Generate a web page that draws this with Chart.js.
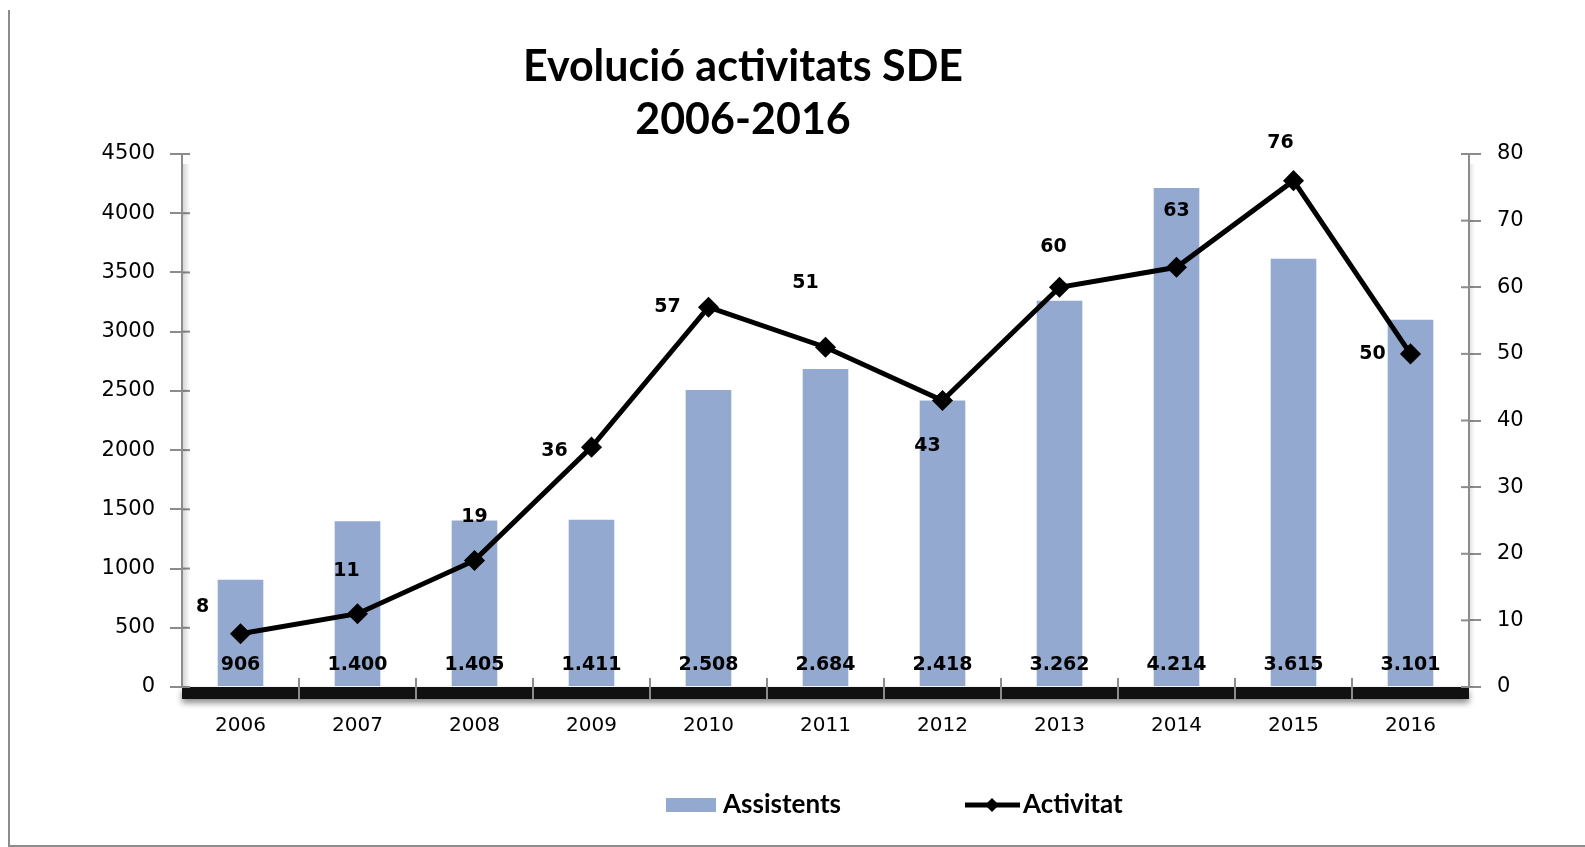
<!DOCTYPE html>
<html>
<head>
<meta charset="utf-8">
<script src="https://cdn.jsdelivr.net/npm/chart.js@4.4.0/dist/chart.umd.min.js"></script>
<style>
    body { margin: 0; background: #fff; }
    #wrap { position: relative; width: 1585px; height: 847px; }
    #frame { position: absolute; left: 8px; top: 10px; right: -4px; bottom: 0; border-left: 2px solid #8c8c8c; border-bottom: 2px solid #8c8c8c; }
    canvas { position: absolute; left: 0; top: 0; }
</style>
</head>
<body>
<div id="wrap">
    <div id="frame"></div>
    <canvas id="chartSDE" width="1585" height="847"></canvas>
</div>
<script>
// dades
const years = ["2006", "2007", "2008", "2009", "2010", "2011", "2012", "2013", "2014", "2015", "2016"];
const assistents = [906, 1400, 1405, 1411, 2508, 2684, 2418, 3262, 4214, 3615, 3101];
const activitat = [8, 11, 19, 36, 57, 51, 43, 60, 63, 76, 50];
const assistentsTicks = { max: 4500, step: 500 };
const activitatTicks = { max: 80, step: 10 };

// posicio de les etiquetes de la linia (com a l'Excel original)
const lineLabelOffsets = [
    [-38, -27], [-11, -43], [0, -43], [-37, 4], [-41, 0], [-20, -64],
    [-15, 46], [-6, -40], [0, -56], [-13, -38], [-38, 0],
];

const barColor = "#94a9d0";
const axisGrey = "#8c8c8c";

const sdePlugin = {
    id: "sdeDecor",
    afterDatasetsDraw(chart) {
        const ctx = chart.ctx;
        const area = chart.chartArea;

        // terra negre sota l'eix X
        ctx.save();
        ctx.shadowColor = "rgba(0,0,0,0.45)";
        ctx.shadowBlur = 6;
        ctx.shadowOffsetY = 4;
        ctx.fillStyle = "#111";
        ctx.fillRect(area.left, area.bottom, area.right - area.left, 12);
        ctx.restore();

        // separadors de categoria i marques interiors dels eixos
        ctx.save();
        ctx.strokeStyle = axisGrey;
        ctx.lineWidth = 2;
        const w = (area.right - area.left) / years.length;
        for (let i = 1; i < years.length; i++) {
            const px = Math.round(area.left + i * w);
            ctx.beginPath();
            ctx.moveTo(px, area.bottom - 9);
            ctx.lineTo(px, area.bottom + 12);
            ctx.stroke();
        }
        chart.scales.y.ticks.forEach((t) => {
            const py = chart.scales.y.getPixelForValue(t.value);
            ctx.beginPath();
            ctx.moveTo(area.left, py);
            ctx.lineTo(area.left + 8, py);
            ctx.stroke();
        });
        chart.scales.y1.ticks.forEach((t) => {
            const py = chart.scales.y1.getPixelForValue(t.value);
            ctx.beginPath();
            ctx.moveTo(area.right - 8, py);
            ctx.lineTo(area.right, py);
            ctx.stroke();
        });
        ctx.restore();

        // ombra de la paret esquerra i dreta
        ctx.save();
        let g = ctx.createLinearGradient(area.left, 0, area.left + 8, 0);
        g.addColorStop(0, "rgba(0,0,0,0.18)");
        g.addColorStop(1, "rgba(0,0,0,0)");
        ctx.fillStyle = g;
        ctx.fillRect(area.left + 1, area.top + 10, 8, area.bottom - area.top - 10);
        g = ctx.createLinearGradient(area.right, 0, area.right + 6, 0);
        g.addColorStop(0, "rgba(0,0,0,0.12)");
        g.addColorStop(1, "rgba(0,0,0,0)");
        ctx.fillStyle = g;
        ctx.fillRect(area.right + 1, area.top + 10, 6, area.bottom - area.top - 10);
        ctx.restore();

        // etiquetes de les barres
        ctx.save();
        ctx.fillStyle = "#000";
        ctx.font = "bold 19px 'DejaVu Sans'";
        ctx.textAlign = "center";
        ctx.textBaseline = "middle";
        chart.getDatasetMeta(0).data.forEach((bar, i) => {
            ctx.fillText(assistents[i].toLocaleString("de-DE"), bar.x, area.bottom - 22);
        });

        // etiquetes de la linia
        chart.getDatasetMeta(1).data.forEach((pt, i) => {
            const off = lineLabelOffsets[i];
            ctx.fillText(String(activitat[i]), pt.x + off[0], pt.y + off[1]);
        });
        ctx.restore();

        // titol
        ctx.save();
        ctx.fillStyle = "#000";
        ctx.font = "bold 43px Lato";
        ctx.textAlign = "center";
        ctx.textBaseline = "middle";
        ctx.fillText("Evolució activitats SDE", 743, 67);
        ctx.fillText("2006-2016", 743, 120);
        ctx.restore();

        // llegenda
        ctx.save();
        ctx.fillStyle = barColor;
        ctx.fillRect(666, 798, 50, 14);
        ctx.fillStyle = "#000";
        ctx.font = "bold 26px Lato";
        ctx.textBaseline = "middle";
        ctx.fillText("Assistents", 723, 805);
        ctx.strokeStyle = "#000";
        ctx.lineWidth = 5;
        ctx.beginPath();
        ctx.moveTo(965, 805);
        ctx.lineTo(1020, 805);
        ctx.stroke();
        ctx.beginPath();
        ctx.moveTo(992, 798);
        ctx.lineTo(999, 805);
        ctx.lineTo(992, 812);
        ctx.lineTo(985, 805);
        ctx.closePath();
        ctx.fill();
        ctx.fillText("Activitat", 1023, 805);
        ctx.restore();
    },
};

const ctxSDE = document.getElementById("chartSDE").getContext("2d");
const chartSDE = new Chart(ctxSDE, {
    type: "bar",
    data: {
        labels: years,
        datasets: [
            {
                label: "Assistents",
                data: assistents,
                backgroundColor: barColor,
                barPercentage: 0.39,
                categoryPercentage: 1,
                yAxisID: "y",
                order: 2,
            },
            {
                type: "line",
                label: "Activitat",
                data: activitat,
                borderColor: "#000",
                backgroundColor: "#000",
                borderWidth: 5,
                pointStyle: "rectRot",
                pointRadius: 7,
                tension: 0,
                yAxisID: "y1",
                order: 1,
            },
        ],
    },
    options: {
        responsive: false,
        animation: false,
        layout: { padding: { top: 154, left: 0, right: 0, bottom: 0 } },
        plugins: {
            legend: { display: false },
            title: { display: false },
            tooltip: { enabled: false },
        },
        scales: {
            x: {
                grid: { display: false },
                border: { display: false },
                ticks: { color: "#000", font: { family: "DejaVu Sans", size: 20 }, padding: 19 },
                afterFit: (s) => { s.height = 160; },
            },
            y: {
                position: "left",
                min: 0,
                max: assistentsTicks.max,
                ticks: {
                    stepSize: assistentsTicks.step,
                    color: "#000",
                    font: { family: "DejaVu Sans", size: 21 },
                    padding: 15,
                    callback: (v) => String(v),
                },
                grid: { drawOnChartArea: false, tickLength: 12, color: axisGrey, lineWidth: 2 },
                border: { color: axisGrey, width: 2 },
                afterFit: (s) => { s.width = 182; },
            },
            y1: {
                position: "right",
                min: 0,
                max: activitatTicks.max,
                ticks: {
                    stepSize: activitatTicks.step,
                    color: "#000",
                    font: { family: "DejaVu Sans", size: 21 },
                    padding: 16,
                    callback: (v) => String(v),
                },
                grid: { drawOnChartArea: false, tickLength: 12, color: axisGrey, lineWidth: 2 },
                border: { color: axisGrey, width: 2 },
                afterFit: (s) => { s.width = 116; },
            },
        },
    },
    plugins: [sdePlugin],
});
</script>
</body>
</html>
